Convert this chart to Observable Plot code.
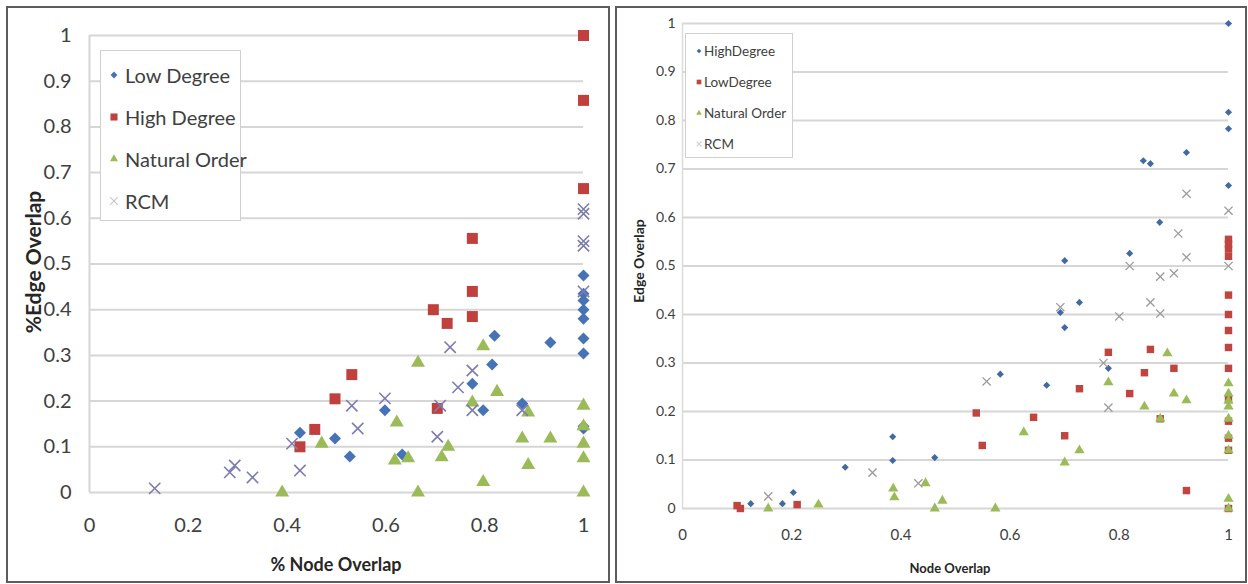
<!DOCTYPE html>
<html><head><meta charset="utf-8">
<script src="https://cdn.jsdelivr.net/npm/d3@7"></script>
<script src="https://cdn.jsdelivr.net/npm/@observablehq/plot@0.6"></script>
<style>
body{margin:0;background:#fff;font-family:Lato,"Open Sans",sans-serif;}
#wrap{position:relative;width:1248px;height:584px;overflow:hidden;background:#fff;}
.panel{position:absolute;border:2px solid #5c5c5c;box-sizing:border-box;background:#fff;}
.panel svg{position:absolute;left:0;top:0;}
.legend{position:absolute;border:1.5px solid #d0d0d0;background:#fff;box-sizing:border-box;}
</style></head>
<body><div id="wrap"></div>
<script>
// ---------- data ----------
const yTicks = [0,0.1,0.2,0.3,0.4,0.5,0.6,0.7,0.8,0.9,1];
const xTicks = [0,0.2,0.4,0.6,0.8,1];

const leftSeriesNames = ["Low Degree","High Degree","Natural Order","RCM"];
const leftLowDegree = [[0.426,0.131],[0.497,0.118],[0.527,0.079],[0.598,0.18],[0.633,0.083],[0.775,0.238],[0.797,0.18],[0.815,0.28],[0.82,0.343],[0.876,0.195],[0.933,0.328],[1,0.475],[1,0.435],[1,0.42],[1,0.40],[1,0.38],[1,0.337],[1,0.304],[1,0.145],[1,0.14]];
const leftHighDegree = [[0.426,0.10],[0.456,0.138],[0.497,0.205],[0.531,0.258],[0.696,0.40],[0.704,0.184],[0.724,0.37],[0.775,0.556],[0.775,0.44],[0.775,0.385],[1,1.0],[1,0.858],[1,0.665]];
const leftNaturalOrder = [[0.39,0],[0.47,0.107],[0.622,0.153],[0.618,0.07],[0.645,0.075],[0.665,0.284],[0.665,0],[0.713,0.077],[0.726,0.1],[0.775,0.197],[0.797,0.32],[0.797,0.023],[0.825,0.22],[0.876,0.118],[0.888,0.175],[0.888,0.06],[0.933,0.118],[1,0.19],[1,0.145],[1,0.107],[1,0.075],[1,0]];
const leftRCM = [[0.132,0.009],[0.284,0.044],[0.294,0.059],[0.33,0.033],[0.41,0.107],[0.426,0.048],[0.531,0.19],[0.543,0.14],[0.598,0.206],[0.704,0.122],[0.71,0.19],[0.73,0.318],[0.746,0.23],[0.775,0.267],[0.775,0.18],[0.876,0.18],[1,0.62],[1,0.61],[1,0.55],[1,0.54],[1,0.44]];

const rightSeriesNames = ["HighDegree","LowDegree","Natural Order","RCM"];
const rightHighDegree = [[0.125,0.01],[0.183,0.01],[0.203,0.033],[0.298,0.085],[0.385,0.148],[0.385,0.099],[0.462,0.105],[0.582,0.277],[0.667,0.254],[0.692,0.404],[0.70,0.373],[0.70,0.511],[0.727,0.425],[0.78,0.289],[0.819,0.526],[0.844,0.717],[0.857,0.711],[0.874,0.59],[0.923,0.734],[1,1.0],[1,0.817],[1,0.783],[1,0.666]];
const rightLowDegree = [[0.10,0.006],[0.106,0.0],[0.21,0.008],[0.538,0.197],[0.549,0.13],[0.643,0.188],[0.70,0.15],[0.727,0.247],[0.78,0.322],[0.819,0.237],[0.846,0.28],[0.857,0.328],[0.875,0.185],[0.90,0.289],[0.923,0.037],[1,0.555],[1,0.545],[1,0.535],[1,0.52],[1,0.44],[1,0.40],[1,0.367],[1,0.332],[1,0.289],[1,0.225],[1,0.18],[1,0.145],[1,0.12],[1,0.0]];
const rightNaturalOrder = [[0.157,0.0],[0.249,0.008],[0.386,0.041],[0.388,0.023],[0.445,0.052],[0.462,0.0],[0.476,0.016],[0.573,0.0],[0.625,0.157],[0.70,0.095],[0.727,0.12],[0.78,0.26],[0.846,0.21],[0.875,0.185],[0.888,0.32],[0.90,0.237],[0.923,0.223],[1,0.258],[1,0.237],[1,0.222],[1,0.21],[1,0.185],[1,0.15],[1,0.12],[1,0.02],[1,0.0]];
const rightRCM = [[0.157,0.025],[0.348,0.074],[0.432,0.052],[0.557,0.262],[0.692,0.415],[0.771,0.30],[0.78,0.208],[0.80,0.396],[0.819,0.50],[0.857,0.425],[0.875,0.402],[0.875,0.478],[0.90,0.485],[0.908,0.567],[0.923,0.518],[0.923,0.649],[1,0.614],[1,0.50]];

// ---------- styling ----------
const FONT = "Lato, 'Open Sans', sans-serif";
const leftColors = ["#4672b6","#c0403e","#9bbb59","#7c7cb0"];
const rightColors = ["#3f6aa3","#c0443f","#9bbb59","#9a9a9a"];
const wrap = document.getElementById("wrap");

function panel(left, top, w, h){
  const p = document.createElement("div");
  p.className = "panel";
  p.style.left = left + "px"; p.style.top = top + "px";
  p.style.width = w + "px"; p.style.height = h + "px";
  wrap.appendChild(p);
  return p;
}
function title(txt, cx, cy, size, rot){
  const d = document.createElement("div");
  d.textContent = txt;
  d.style.cssText = `position:absolute;left:${cx}px;top:${cy}px;transform:translate(-50%,-50%) rotate(${rot||0}deg);font-family:${FONT};font-weight:bold;font-size:${size}px;color:#262626;white-space:nowrap;`;
  wrap.appendChild(d);
}
function symPath(type, size){ return d3.symbol(type, size)(); }
function legend(x, y, w, h, names, colors, symbols, fontSize, firstY, rowH, markerX, textX, mSizes){
  const L = document.createElement("div");
  L.className = "legend";
  L.style.cssText += `left:${x}px;top:${y}px;width:${w}px;height:${h}px;`;
  names.forEach((n,i)=>{
    const cy = firstY + i*rowH;
    const s = document.createElementNS("http://www.w3.org/2000/svg","svg");
    s.setAttribute("width",14); s.setAttribute("height",14);
    s.style.cssText = `position:absolute;left:${markerX-7}px;top:${cy-7}px;overflow:visible`;
    const p = document.createElementNS("http://www.w3.org/2000/svg","path");
    p.setAttribute("d", symPath(symbols[i], mSizes[i]));
    p.setAttribute("transform","translate(7,7)");
    if (symbols[i] === d3.symbolTimes){ p.setAttribute("fill","none"); p.setAttribute("stroke",colors[i]); p.setAttribute("stroke-width",1.2);} else { p.setAttribute("fill",colors[i]); }
    s.appendChild(p); L.appendChild(s);
    const t = document.createElement("div");
    t.textContent = n;
    t.style.cssText = `position:absolute;left:${textX}px;top:${cy}px;transform:translateY(-50%);font-family:${FONT};font-size:${fontSize}px;color:#404040;white-space:nowrap;`;
    L.appendChild(t);
  });
  wrap.appendChild(L);
}

const fmt = d => String(d);

// ---------- left panel ----------
const pL = panel(6, 6, 604, 577);
const plotL = Plot.plot({
  width: 600, height: 573,
  marginLeft: 81, marginRight: 25, marginTop: 27, marginBottom: 89,
  x: {domain: [0,1]}, y: {domain: [0,1]},
  style: {fontFamily: FONT, fontSize: "20px", color: "#404040", background: "transparent"},
  marks: [
    Plot.gridY(yTicks, {stroke: "#d6d6d6", strokeOpacity: 1, strokeWidth: 2}),
    Plot.ruleX([0], {stroke: "#d6d6d6", strokeWidth: 2}),
    Plot.axisX(xTicks, {tickSize: 0, tickPadding: 25, tickFormat: fmt, label: null, fontSize: 20}),
    Plot.axisY(yTicks, {tickSize: 0, tickPadding: 18, tickFormat: fmt, label: null, fontSize: 20}),
    Plot.dot(leftLowDegree, {x: d=>d[0], y: d=>d[1], symbol: "diamond2", r: 5.4, fill: leftColors[0], stroke: "none"}),
    Plot.dot(leftHighDegree, {x: d=>d[0], y: d=>d[1], symbol: "square", r: 6.2, fill: leftColors[1], stroke: "none"}),
    Plot.dot(leftNaturalOrder, {x: d=>d[0], y: d=>d[1], symbol: "triangle", r: 5.2, fill: leftColors[2], stroke: "none"}),
    Plot.dot(leftRCM, {x: d=>d[0], y: d=>d[1], symbol: "times", r: 5.2, stroke: leftColors[3], strokeWidth: 1.6, fill: "none"})
  ]
});
pL.appendChild(plotL);
title("% Node Overlap", 336, 564, 18, 0);
title("%Edge Overlap", 32, 262, 21, -90);
legend(100, 50, 141, 171, leftSeriesNames, ["#4672b6","#c0403e","#9bbb59","#c8c8c8"],
  [d3.symbolDiamond2, d3.symbolSquare, d3.symbolTriangle, d3.symbolTimes],
  20, 24, 42, 13, 24, [30, 50, 28, 40]);

// ---------- right panel ----------
const pR = panel(615, 6, 632, 577);
const plotR = Plot.plot({
  width: 628, height: 573,
  marginLeft: 65, marginRight: 17, marginTop: 15, marginBottom: 73,
  x: {domain: [0,1]}, y: {domain: [0,1]},
  style: {fontFamily: FONT, fontSize: "14px", color: "#404040", background: "transparent"},
  marks: [
    Plot.gridY(yTicks, {stroke: "#d6d6d6", strokeOpacity: 1, strokeWidth: 2}),
    Plot.ruleX([0], {stroke: "#dcdcdc", strokeWidth: 1.5}),
    Plot.axisX(xTicks, {tickSize: 0, tickPadding: 21, tickFormat: fmt, label: null, fontSize: 15}),
    Plot.axisY(yTicks, {tickSize: 0, tickPadding: 7, tickFormat: fmt, label: null, fontSize: 14}),
    Plot.dot(rightHighDegree, {x: d=>d[0], y: d=>d[1], symbol: "diamond2", r: 3.2, fill: rightColors[0], stroke: "none"}),
    Plot.dot(rightLowDegree, {x: d=>d[0], y: d=>d[1], symbol: "square", r: 4.2, fill: rightColors[1], stroke: "none"}),
    Plot.dot(rightNaturalOrder, {x: d=>d[0], y: d=>d[1], symbol: "triangle", r: 3.8, fill: rightColors[2], stroke: "none"}),
    Plot.dot(rightRCM, {x: d=>d[0], y: d=>d[1], symbol: "times", r: 3.8, stroke: rightColors[3], strokeWidth: 1.3, fill: "none"})
  ]
});
pR.appendChild(plotR);
title("Node Overlap", 950, 568, 13, 0);
title("Edge Overlap", 638, 261, 14, -90);
legend(685, 33, 108, 125, rightSeriesNames, ["#3f6aa3","#c0443f","#9bbb59","#cfcfcf"],
  [d3.symbolDiamond2, d3.symbolSquare, d3.symbolTriangle, d3.symbolTimes],
  13.5, 17, 31, 13, 18, [14, 22, 14, 16]);
</script>
</body></html>
